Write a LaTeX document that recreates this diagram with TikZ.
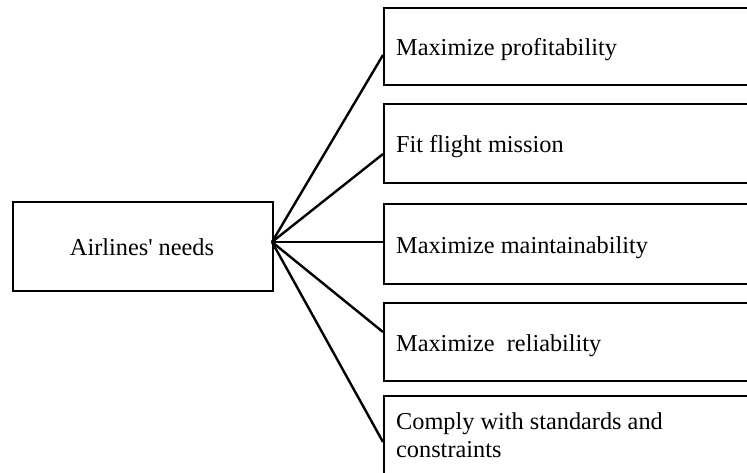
\documentclass[tikz,border=0pt]{standalone}
\usepackage{fontspec}
\setmainfont{Liberation Serif}[Ligatures=TeXOff]
\begin{document}
\begin{tikzpicture}[x=1pt,y=-1pt,
  box/.style={draw, line width=1.6pt, rectangle, inner sep=0pt, anchor=north west},
  rbox/.style={box, minimum width=380pt},
  txt/.style={inner sep=0pt, font=\fontsize{24.3}{27.5}\selectfont},
  link/.style={line width=2.4pt}]
\useasboundingbox (0,0) rectangle (747,472);
\clip (0,0) rectangle (747,472);
% left box
\node[box, minimum width=260pt, minimum height=89pt] (L) at (12,201) {};
\node[txt, anchor=base] (tL) at (142,255) {Airlines' needs};
\coordinate (hub) at (272,242);
% right boxes
\node[rbox, minimum height=77pt] (b1) at (383,7) {};
\node[rbox, minimum height=79pt] (b2) at (383,103) {};
\node[rbox, minimum height=80pt] (b3) at (383,203) {};
\node[rbox, minimum height=78pt] (b4) at (383,302) {};
\node[rbox, minimum height=100pt] (b5) at (383,395) {};
\node[txt, anchor=base west] (t1) at (396,55) {Maximize profitability};
\node[txt, anchor=base west] (t2) at (396,152) {Fit flight mission};
\node[txt, anchor=base west] (t3) at (396,253) {Maximize maintainability};
\node[txt, anchor=base west] (t4) at (396,351) {Maximize\ \ reliability};
\node[txt, anchor=base west, align=left] (t5) at (396,457) {Comply with standards and\\constraints};
% connector ends
\coordinate (e1) at (383,55);
\coordinate (e2) at (383,154);
\coordinate (e3) at (383,242);
\coordinate (e4) at (383,332);
\coordinate (e5) at (383,442);
\foreach \e in {e1,e2,e3,e4,e5} \draw[link] (hub) -- (\e);
\end{tikzpicture}
\end{document}
